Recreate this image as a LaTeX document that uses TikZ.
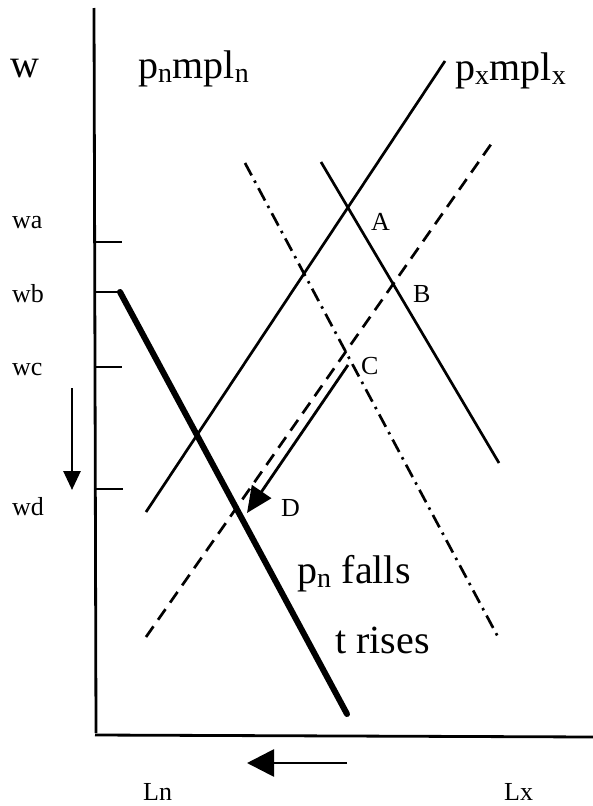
\documentclass[tikz,border=0pt]{standalone}
\usepackage{fontspec}
\setmainfont{Liberation Serif}
\usetikzlibrary{arrows.meta}
\begin{document}
\begin{tikzpicture}[x=1pt,y=-1pt,
  axisline/.style={line width=2.8pt},
  curve/.style={line width=2.7pt},
  thickcurve/.style={line width=6pt},
  dashcurve/.style={line width=2.7pt,dash pattern=on 13pt off 8pt},
  dotdash/.style={line width=2.7pt,dash pattern=on 14pt off 6pt on 2.5pt off 6pt},
  big/.style={inner sep=0pt,anchor=base west,font=\fontsize{40}{44}\selectfont},
  small/.style={inner sep=0pt,anchor=base west,font=\fontsize{26}{30}\selectfont},
  bigarrow/.style={line width=2.8pt,-{Triangle[length=27pt,width=27pt]}},
  midarrow/.style={line width=2.8pt,-{Triangle[length=26pt,width=23pt]}},
  smallarrow/.style={line width=2.8pt,-{Triangle[length=19pt,width=17pt]}}
]
\useasboundingbox (0,0) rectangle (593,806);
% axes
\coordinate (ytop) at (94,8);
\coordinate (ybot) at (96,733);
\coordinate (xl) at (95,735);
\coordinate (xr) at (593,737);
\draw[axisline] (ytop) -- (ybot);
\draw[axisline] (xl) -- (xr);
% ticks
\coordinate (ta0) at (95,242); \coordinate (ta1) at (122,242);
\coordinate (tb0) at (95,292); \coordinate (tb1) at (120,292);
\coordinate (tc0) at (95,367); \coordinate (tc1) at (122,367);
\coordinate (td0) at (95,489); \coordinate (td1) at (123,489);
\draw[axisline] (ta0) -- (ta1);
\draw[axisline] (tb0) -- (tb1);
\draw[axisline] (tc0) -- (tc1);
\draw[axisline] (td0) -- (td1);
% curves
\coordinate (thickend) at (347,714);
\draw[thickcurve,line cap=round] (tb1) -- (thickend);
\coordinate (pxa) at (146,512); \coordinate (pxb) at (445,61);
\draw[curve] (pxa) -- (pxb);
\coordinate (pxda) at (146,637); \coordinate (pxdb) at (494,140);
\draw[dashcurve] (pxda) -- (pxdb);
\coordinate (pna) at (321,162); \coordinate (pnb) at (499,463);
\draw[curve] (pna) -- (pnb);
\coordinate (pnda) at (245,163); \coordinate (pndb) at (498,637);
\draw[dotdash] (pnda) -- (pndb);
% arrows
\coordinate (cpt) at (348,365); \coordinate (dpt) at (247,513);
\draw[midarrow] (cpt) -- (dpt);
\coordinate (dwa) at (72,388); \coordinate (dwb) at (72,490);
\draw[smallarrow] (dwa) -- (dwb);
\coordinate (lfa) at (347,763); \coordinate (lfb) at (247,763);
\draw[bigarrow] (lfa) -- (lfb);
% labels
\node[big] (w) at (10,77) {w};
\node[big] (pn) at (138,78) {p\textsubscript{n}mpl\textsubscript{n}};
\node[big] (px) at (455,80) {p\textsubscript{x}mpl\textsubscript{x}};
\node[small] (wa) at (12,228) {wa};
\node[small] (wb) at (12,302) {wb};
\node[small] (wc) at (12,375) {wc};
\node[small] (wd) at (12,515) {wd};
\node[small] (A) at (371,230) {A};
\node[small] (B) at (413,302) {B};
\node[small] (C) at (361,374) {C};
\node[small] (D) at (281,516) {D};
\node[big] (falls) at (297,583) {p\textsubscript{n} falls};
\node[big] (rises) at (335,653) {t rises};
\node[small] (Ln) at (143,800) {Ln};
\node[small] (Lx) at (504,800) {Lx};
\end{tikzpicture}
\end{document}
